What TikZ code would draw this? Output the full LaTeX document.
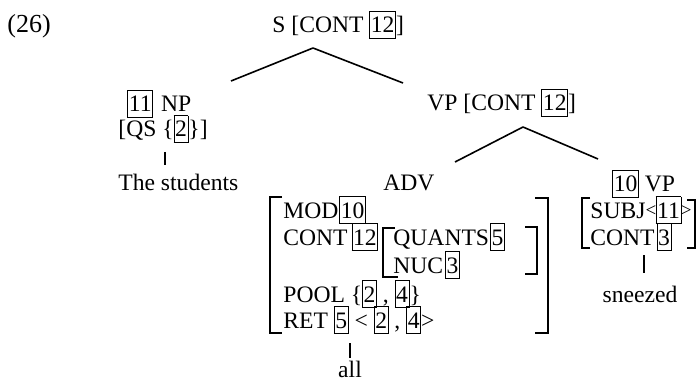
\documentclass[tikz,border=0pt]{standalone}
\usepackage{fontspec}
\setmainfont{Liberation Serif}
\usetikzlibrary{calc,positioning}

\newcommand{\tg}[1]{{\setlength{\fboxsep}{0.6pt}\setlength{\fboxrule}{0.9pt}\fbox{\rule[-0.2em]{0pt}{1.05em}#1}}}
\newcommand{\sang}[1]{\raisebox{1.2pt}{\fontsize{19}{20}\selectfont#1}}

\begin{document}
\begin{tikzpicture}[x=1pt,y=-1pt,-,thick,
                    word/.style={inner sep=0pt,anchor=base west,font=\fontsize{23.6}{27}\selectfont},
                    branch/.style={line width=1.6pt},
                    avm/.style={line width=1.5pt}]
\useasboundingbox (0,0) rectangle (698,382);

  % labels and categories
  \node[word,font=\fontsize{26}{30}\selectfont] (ex) at (7,33) {(26)};
  \node[word] (s) at (272,33) {S [CONT \tg{12}]};
  \node[word] (np) at (127,112) {\tg{11}\hspace{8pt}NP};
  \node[word] (qs) at (118,137) {[QS \{\tg{2}\}]};
  \node[word] (stud) at (118,190) {The students};
  \node[word] (vp) at (427,111) {VP [CONT \tg{12}]};
  \node[word] (adv) at (383,190) {ADV};
  \node[word] (mod) at (283,218) {MOD\kern1pt\tg{10}};
  \node[word] (cont) at (283,245) {CONT\,\tg{12}};
  \node[word] (quants) at (393,245) {QUANTS\kern1pt\tg{5}};
  \node[word] (nuc) at (393,273) {NUC\kern2pt\tg{3}};
  \node[word] (pool) at (283,302) {POOL \{\tg{2} , \tg{4}\}};
  \node[word] (ret) at (283,328) {RET \tg{5} < \tg{2} , \tg{4}>};
  \node[word,anchor=base] (all) at (350,377) {all};
  \node[word] (vpten) at (612,192) {\tg{10} VP};
  \node[word] (subj) at (590,218) {SUBJ\sang{<}\kern-0.5pt\tg{11}\kern-0.5pt\sang{>}};
  \node[word] (contthree) at (590,245) {CONT\kern2pt\tg{3}};
  \node[word,anchor=base] (sneez) at (640,302) {sneezed};

  % branch points
  \coordinate (s-foot) at (313,48);
  \coordinate (np-head) at (231,81);
  \coordinate (vp-head) at (403,83);
  \coordinate (vp-foot) at (523,127);
  \coordinate (adv-head) at (455,162);
  \coordinate (vpten-head) at (598,159);
  \coordinate (qs-foot) at (165,152);
  \coordinate (stud-head) at (165,165);
  \coordinate (ret-foot) at (350,343);
  \coordinate (all-head) at (350,358);
  \coordinate (cont-foot) at (644,255);
  \coordinate (sneez-head) at (644,273);

  \path[branch]
    (s-foot) edge (np-head)
    edge (vp-head)
    (vp-foot) edge (adv-head)
    edge (vpten-head);
  \path[line width=1.3pt]
    (qs-foot) edge (stud-head)
    (ret-foot) edge (all-head)
    (cont-foot) edge (sneez-head);

  % brackets
  \draw[avm] (282,197) -| (270,333) -- (282,333);
  \draw[avm] (535,198) -| (548,333) -- (535,333);
  \draw[avm] (395,228) -| (383,277) -- (398,277);
  \draw[avm] (525,227) -| (537,274) -- (525,274);
  \draw[avm] (590,198) -| (582,248) -- (590,248);
  \draw[avm] (687,200) -| (695,248) -- (687,248);
\end{tikzpicture}
\end{document}
